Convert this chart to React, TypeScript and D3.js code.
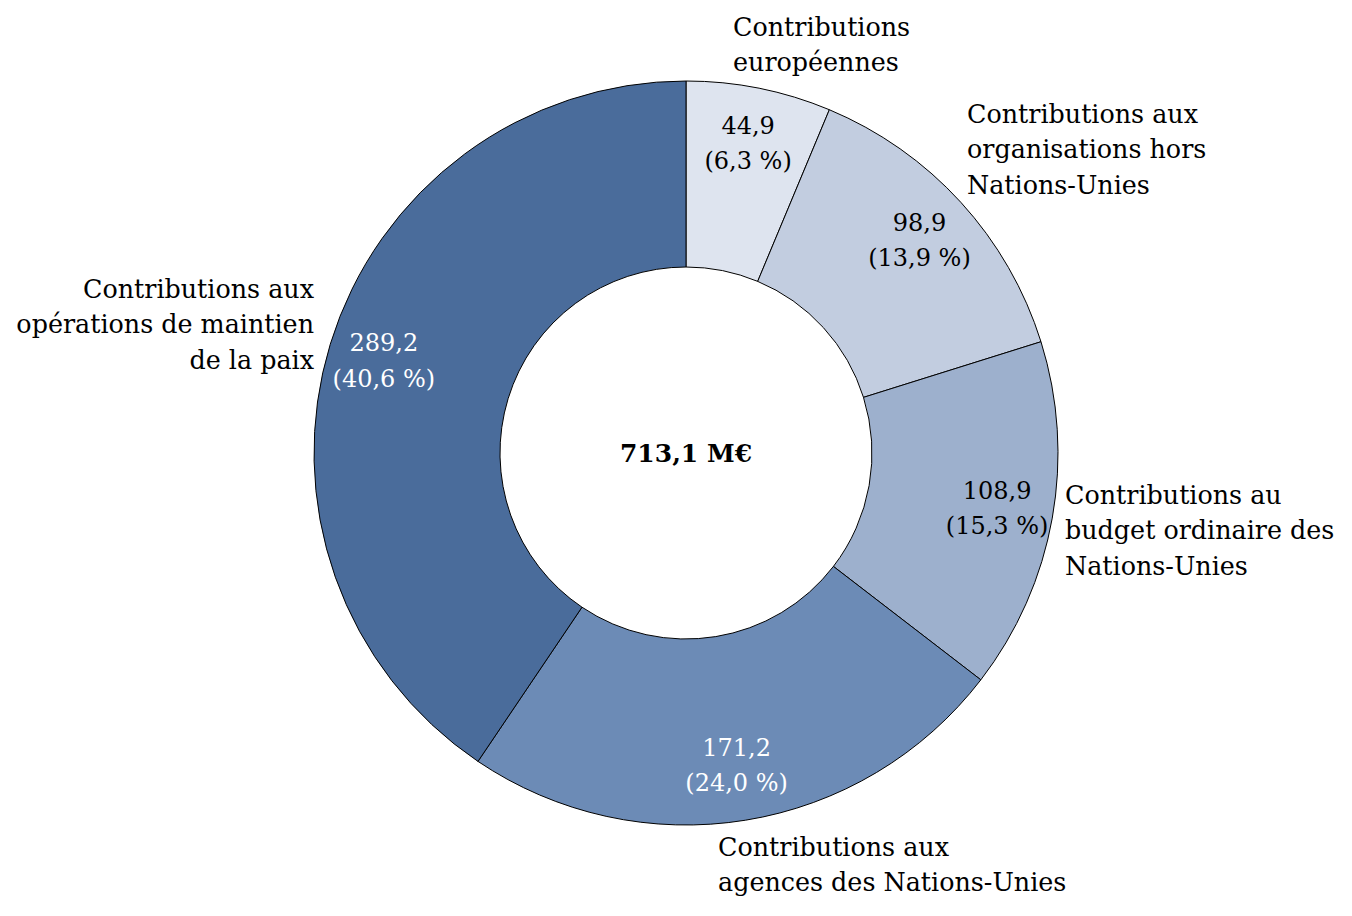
import React from "react";
import * as d3 from "d3";

const categories = [
  "Contributions européennes",
  "Contributions aux organisations hors Nations-Unies",
  "Contributions au budget ordinaire des Nations-Unies",
  "Contributions aux agences des Nations-Unies",
  "Contributions aux opérations de maintien de la paix",
];
const values = [44.9, 98.9, 108.9, 171.2, 289.2];
const shares = ["6,3", "13,9", "15,3", "24,0", "40,6"];
const valueLabels = ["44,9", "98,9", "108,9", "171,2", "289,2"];
const colors = ["#DEE4EF", "#C2CDE0", "#9DB0CD", "#6C8BB6", "#4A6C9B"];
const textColors = ["#000", "#000", "#000", "#fff", "#fff"];
const categoryLines = [
  ["Contributions", "européennes"],
  ["Contributions aux", "organisations hors", "Nations-Unies"],
  ["Contributions au", "budget ordinaire des", "Nations-Unies"],
  ["Contributions aux", "agences des Nations-Unies"],
  ["Contributions aux", "opérations de maintien", "de la paix"],
];
const totalLabel = "713,1 M€";

// layout of the outside category labels
const labelLayout = [
  { x: 733, y: 27, anchor: "start" },
  { x: 967, y: 114, anchor: "start" },
  { x: 1065, y: 495, anchor: "start" },
  { x: 718, y: 847, anchor: "start" },
  { x: 314, y: 289, anchor: "end" },
];

const W = 1352;
const H = 916;
const cx = 686;
const cy = 453;
const outerR = 372;
const innerR = 186;
const labelR = 316;
const lineH = 35.5;
const FONT = "'DejaVu Serif', serif";
const FS = 24;
const FSC = 25.4;

export default function App() {
  const pie = d3
    .pie<number>()
    .sort(null)
    .startAngle(0)
    .endAngle(2 * Math.PI)
    .value((d) => d);
  const arcs = pie(values);
  const arc = d3.arc<d3.PieArcDatum<number>>().innerRadius(innerR).outerRadius(outerR);
  const labelArc = d3.arc<d3.PieArcDatum<number>>().innerRadius(labelR).outerRadius(labelR);

  return (
    <svg width={W} height={H} style={{ position: "absolute", left: 0, top: 0 }} fontFamily={FONT}>
      <rect width={W} height={H} fill="#fff" />
      <g transform={`translate(${cx},${cy})`}>
        {arcs.map((a, i) => (
          <path key={i} d={arc(a) || ""} fill={colors[i]} stroke="#000" strokeWidth={1} />
        ))}
        {arcs.map((a, i) => {
          const [x, y] = labelArc.centroid(a);
          return (
            <text key={"v" + i} x={x} y={y} textAnchor="middle" fontSize={FS} fill={textColors[i]}>
              <tspan x={x} dy={-lineH / 2 + FS * 0.35}>{valueLabels[i]}</tspan>
              <tspan x={x} dy={lineH}>{`(${shares[i]} %)`}</tspan>
            </text>
          );
        })}
        <text x={0} y={0} dy={25 * 0.36} textAnchor="middle" fontSize={25} fontWeight="bold" fill="#000">
          {totalLabel}
        </text>
      </g>
      {categoryLines.map((lines, i) => (
        <text
          key={"c" + i}
          textAnchor={labelLayout[i].anchor as any}
          fontSize={FSC}
          fill="#000"
          aria-label={categories[i]}
        >
          {lines.map((l, j) => (
            <tspan key={j} x={labelLayout[i].x} y={labelLayout[i].y + j * lineH + FSC * 0.35}>
              {l}
            </tspan>
          ))}
        </text>
      ))}
    </svg>
  );
}
